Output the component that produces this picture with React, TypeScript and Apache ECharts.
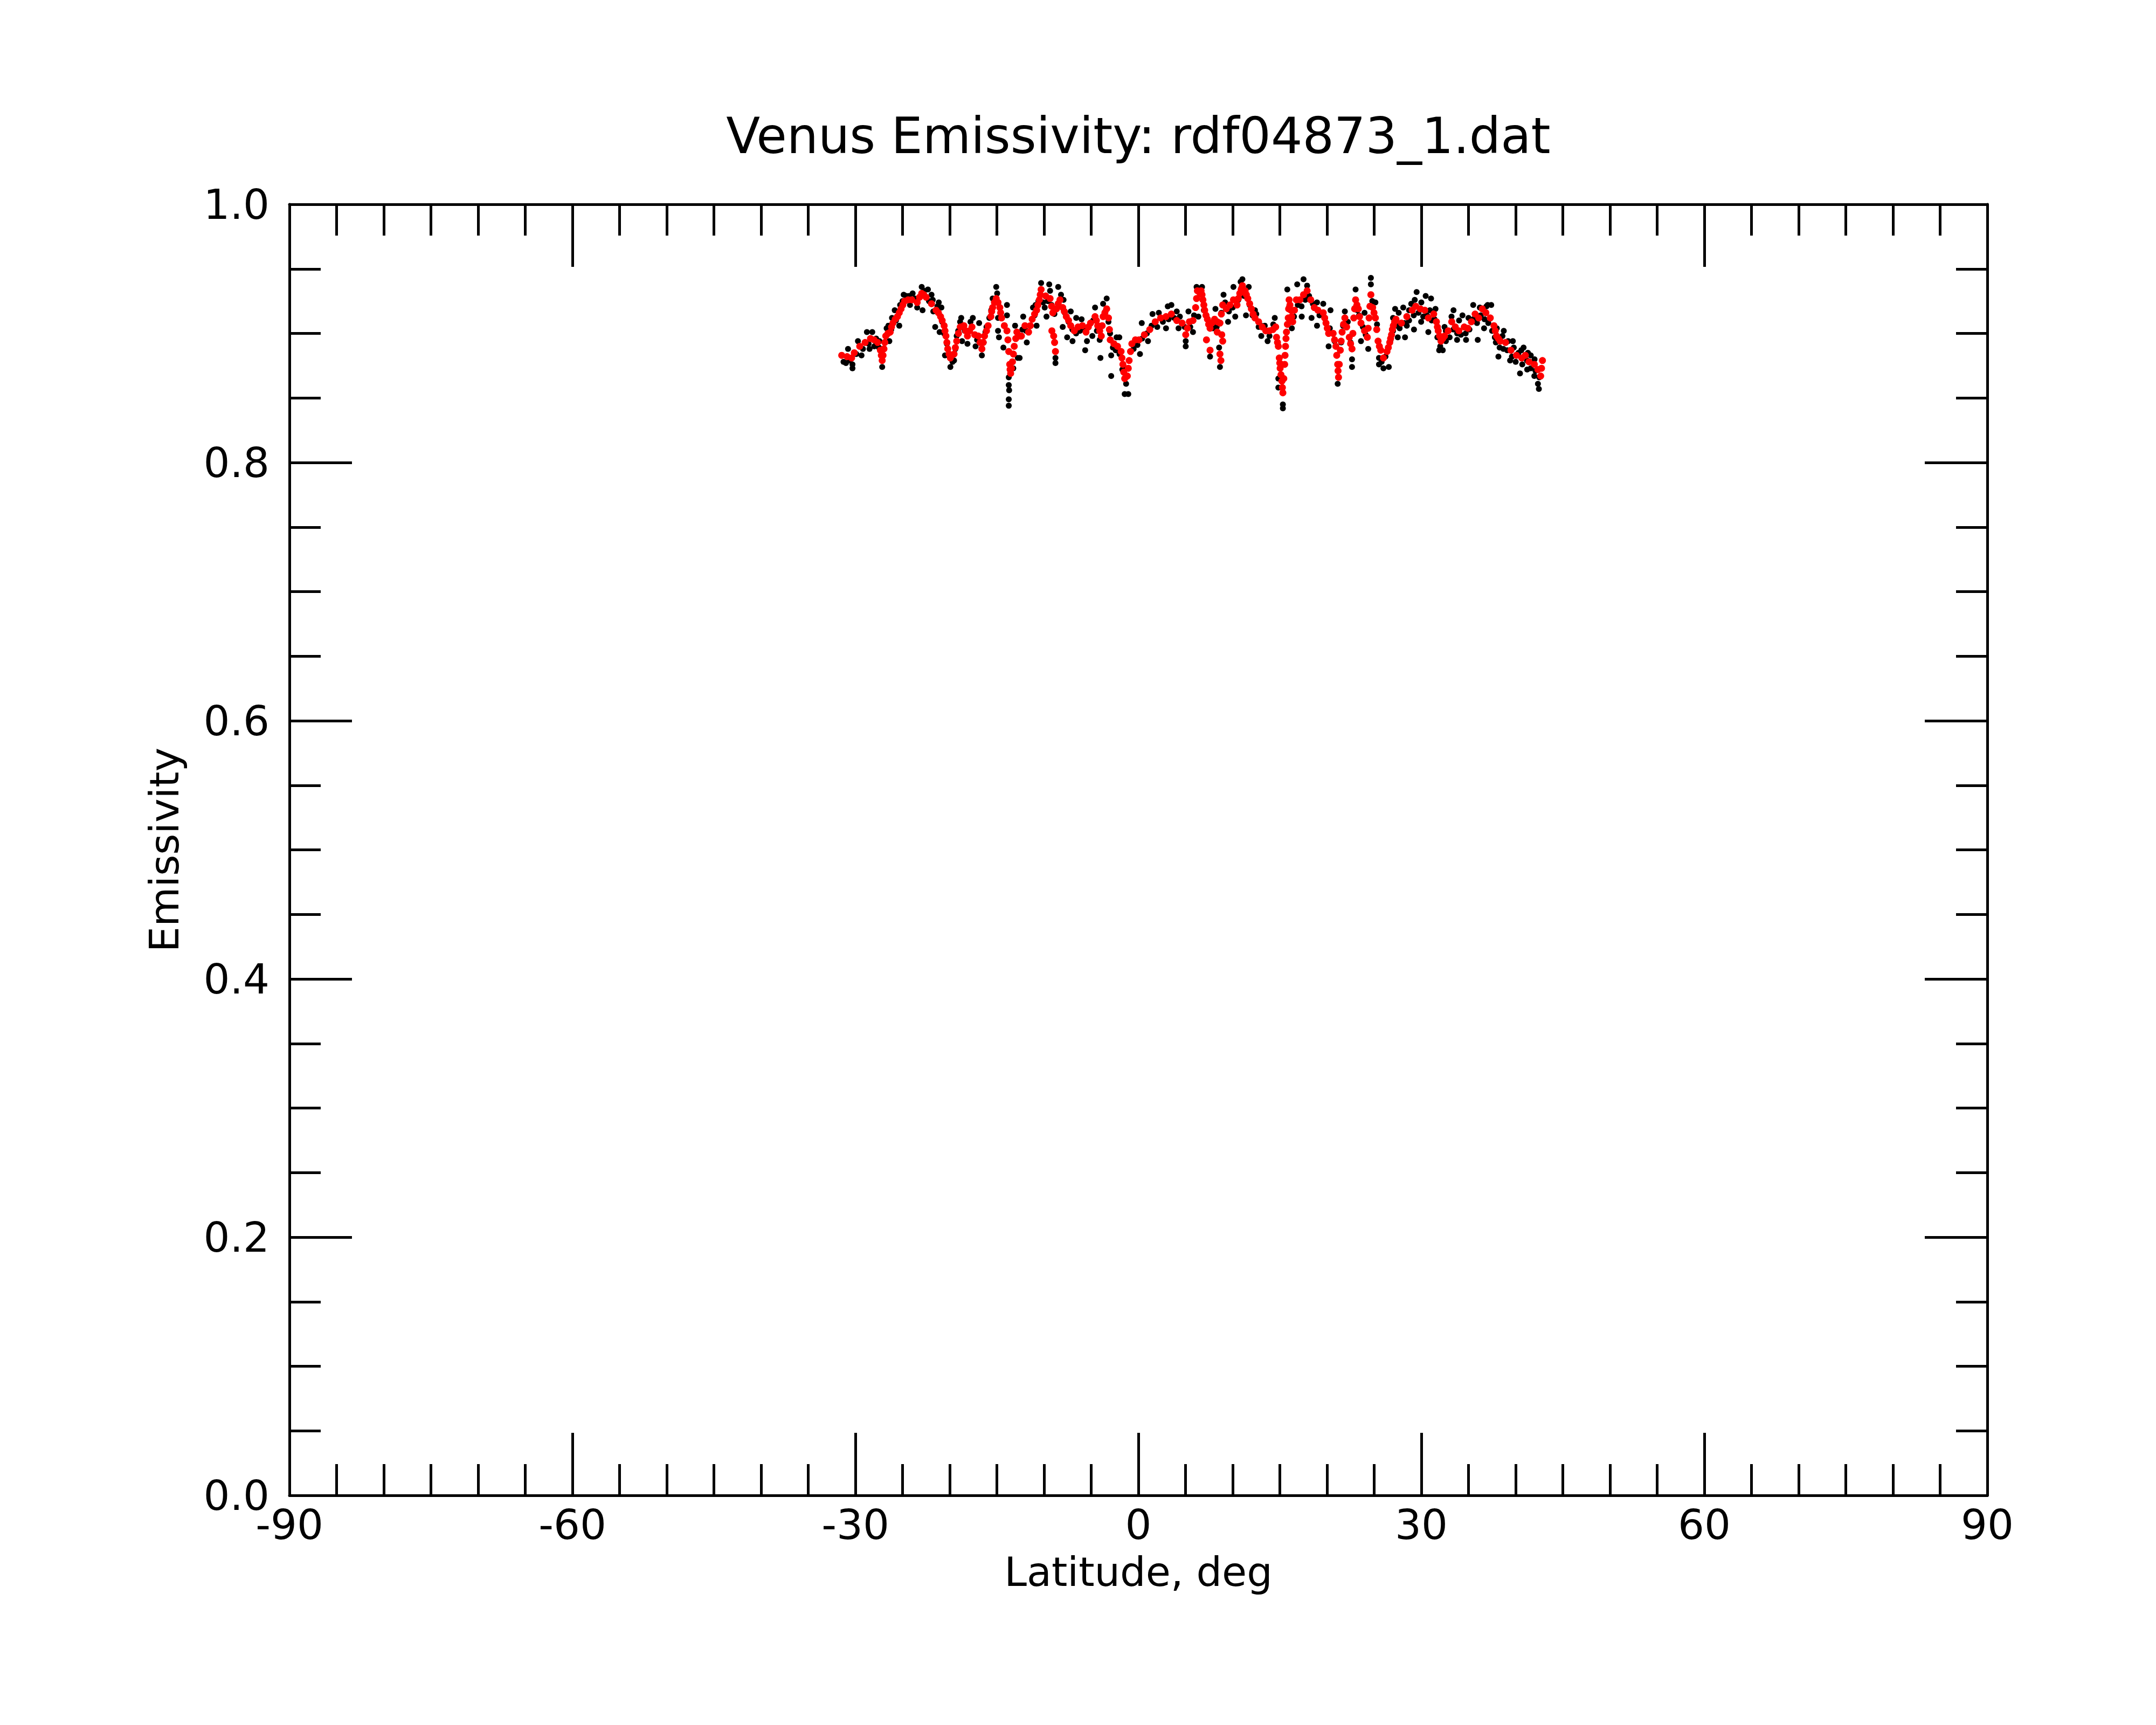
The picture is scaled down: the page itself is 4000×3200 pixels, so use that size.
import React, { useEffect, useRef } from "react";
import * as echarts from "echarts";

const TITLE = "Venus Emissivity: rdf04873_1.dat";
const X_NAME = "Latitude, deg";
const Y_NAME = "Emissivity";

// Red (smoothed) points: [latitude, emissivity]
const redPoints: number[][] = [
  [-31.45, 0.883], [-30.88, 0.882], [-30.4, 0.881], [-30.12, 0.885], [-29.54, 0.89], [-28.97, 0.893],
  [-28.4, 0.896], [-28.02, 0.895], [-27.64, 0.893], [-27.35, 0.887], [-27.16, 0.879], [-26.97, 0.888],
  [-26.78, 0.898], [-26.31, 0.901], [-26.02, 0.908], [-25.54, 0.913], [-25.16, 0.919], [-24.78, 0.925],
  [-24.4, 0.926], [-24.02, 0.926], [-23.45, 0.924], [-22.97, 0.931], [-22.5, 0.928], [-21.93, 0.923],
  [-21.45, 0.918], [-20.97, 0.913], [-20.59, 0.906], [-20.4, 0.898], [-20.21, 0.888], [-19.93, 0.881],
  [-19.54, 0.884], [-19.26, 0.894], [-18.88, 0.905], [-18.5, 0.906], [-18.12, 0.898], [-17.64, 0.905],
  [-17.35, 0.899], [-16.97, 0.898], [-16.59, 0.888], [-16.31, 0.898], [-15.93, 0.906], [-15.64, 0.913],
  [-15.45, 0.92], [-15.07, 0.927], [-14.69, 0.92], [-14.5, 0.912], [-14.21, 0.906], [-13.93, 0.902],
  [-13.83, 0.895], [-13.64, 0.876], [-13.54, 0.869], [-13.35, 0.878], [-13.16, 0.89], [-12.88, 0.901],
  [-12.5, 0.898], [-12.4, 0.898], [-12.02, 0.906], [-11.64, 0.901], [-11.26, 0.911], [-10.79, 0.918],
  [-10.5, 0.926], [-10.31, 0.934], [-9.83, 0.929], [-9.36, 0.927], [-9.07, 0.916], [-8.69, 0.919],
  [-8.31, 0.926], [-8.02, 0.92], [-7.64, 0.913], [-7.17, 0.906], [-6.79, 0.902], [-6.4, 0.905],
  [-5.93, 0.906], [-5.55, 0.901], [-5.07, 0.908], [-4.59, 0.913], [-4.31, 0.906], [-3.93, 0.898],
  [-3.74, 0.913], [-3.36, 0.919], [-3.17, 0.912], [-2.98, 0.895], [-2.59, 0.892], [-2.21, 0.89],
  [-1.83, 0.886], [-1.64, 0.876], [-1.45, 0.865], [-1.17, 0.867], [-0.98, 0.879], [-0.69, 0.892],
  [-0.31, 0.895], [0.07, 0.895], [0.64, 0.899], [1.21, 0.903], [1.79, 0.909], [2.36, 0.912],
  [2.93, 0.913], [3.5, 0.915], [4.07, 0.91], [4.64, 0.908], [5.02, 0.899], [5.41, 0.909],
  [5.79, 0.91], [6.07, 0.92], [6.26, 0.933], [6.55, 0.931],
  [-9.17, 0.902], [-8.98, 0.898], [-8.88, 0.893], [-8.79, 0.886],
  [6.65, 0.933], [6.84, 0.926], [7.03, 0.918], [7.32, 0.911], [7.6, 0.904], [7.79, 0.908],
  [8.08, 0.911], [8.36, 0.909], [8.65, 0.908], [8.94, 0.922], [9.32, 0.919], [9.7, 0.922],
  [10.08, 0.926], [10.46, 0.922], [10.75, 0.931], [11.03, 0.937], [11.32, 0.933], [11.6, 0.927],
  [11.98, 0.919], [12.36, 0.912], [12.75, 0.909], [13.13, 0.905], [13.51, 0.902], [13.89, 0.902],
  [14.27, 0.903], [14.56, 0.905], [14.65, 0.897], [14.84, 0.89], [14.94, 0.881], [15.03, 0.873],
  [15.22, 0.863], [15.32, 0.854], [15.51, 0.876], [15.6, 0.89], [15.7, 0.901], [15.89, 0.912],
  [15.98, 0.926], [16.17, 0.918], [16.36, 0.909], [16.75, 0.926], [17.13, 0.926], [17.51, 0.93],
  [17.89, 0.933], [18.27, 0.926], [18.65, 0.92], [19.03, 0.918], [19.6, 0.916], [19.89, 0.908],
  [20.17, 0.9], [20.65, 0.9], [20.94, 0.89], [21.13, 0.876], [21.22, 0.866], [21.41, 0.887],
  [21.6, 0.901], [21.89, 0.912], [22.08, 0.905], [22.36, 0.897], [22.65, 0.888], [22.84, 0.912],
  [23.03, 0.926], [23.32, 0.919], [23.6, 0.908], [23.98, 0.902], [24.27, 0.897], [24.46, 0.912],
  [24.65, 0.93], [24.84, 0.92], [25.13, 0.912], [25.41, 0.894], [25.7, 0.887],
  [7.22, 0.895], [7.6, 0.887], [8.36, 0.901], [8.65, 0.884], [8.75, 0.879], [8.84, 0.899], [8.94, 0.894],
  [25.98, 0.881], [26.36, 0.886], [26.65, 0.893], [26.84, 0.899], [27.03, 0.906], [27.31, 0.911],
  [27.89, 0.908], [28.46, 0.913], [29.03, 0.918], [29.41, 0.921], [29.89, 0.919], [30.36, 0.918],
  [30.74, 0.912], [31.31, 0.915], [31.6, 0.909], [31.79, 0.902], [32.08, 0.894], [32.46, 0.898],
  [32.84, 0.902], [33.22, 0.909], [33.6, 0.905], [33.98, 0.902], [34.55, 0.905], [34.93, 0.904],
  [35.31, 0.909], [35.7, 0.915], [36.08, 0.912], [36.46, 0.919], [36.84, 0.916], [37.31, 0.912],
  [37.7, 0.906], [37.98, 0.898], [38.36, 0.894], [38.93, 0.893], [39.5, 0.887], [40.08, 0.883],
  [40.65, 0.881], [41.03, 0.883], [41.41, 0.878], [41.98, 0.876], [42.36, 0.872], [42.65, 0.867],
  [42.74, 0.873], [42.84, 0.879],
];

// Further red points read along the steep parts of the trace
const redPointsSteep: number[][] = [
  [-27.25, 0.883], [-27.07, 0.883], [-26.88, 0.893], [-26.55, 0.9], [-26.17, 0.905], [-25.78, 0.911],
  [-25.35, 0.916], [-24.97, 0.922], [-23.2, 0.928], [-22.75, 0.93], [-21.2, 0.916], [-20.8, 0.91],
  [-20.5, 0.902], [-20.3, 0.893], [-20.07, 0.884], [-19.4, 0.889], [-19.07, 0.9], [-18.3, 0.902],
  [-17.9, 0.902], [-16.78, 0.893], [-16.45, 0.893], [-16.1, 0.902], [-15.55, 0.917], [-15.26, 0.924],
  [-14.88, 0.924], [-14.6, 0.916], [-13.74, 0.886], [-13.6, 0.872], [-13.45, 0.873], [-13.25, 0.884],
  [-13.0, 0.896], [-11.45, 0.906], [-11.0, 0.915], [-10.65, 0.922], [-10.4, 0.93], [-9.2, 0.921],
  [-8.5, 0.923], [-7.85, 0.917], [-7.4, 0.91], [-5.3, 0.905], [-4.45, 0.91], [-4.1, 0.902],
  [-3.84, 0.906], [-3.55, 0.916], [-3.07, 0.903], [-1.74, 0.881], [-1.55, 0.87], [-1.07, 0.873],
  [-0.83, 0.886], [5.2, 0.904], [6.17, 0.927], [6.75, 0.93], [6.94, 0.922], [7.17, 0.914],
  [7.45, 0.907], [8.8, 0.915], [10.6, 0.927], [10.9, 0.934], [11.45, 0.93], [11.8, 0.923],
  [12.17, 0.915], [14.75, 0.893], [14.99, 0.877], [15.12, 0.868], [15.27, 0.858], [15.42, 0.865],
  [15.55, 0.883], [15.65, 0.896], [15.8, 0.907], [15.93, 0.919], [16.07, 0.922], [16.26, 0.913],
  [16.55, 0.918], [19.75, 0.912], [20.03, 0.904], [20.8, 0.895], [21.03, 0.883], [21.17, 0.871],
  [21.3, 0.876], [21.5, 0.894], [21.75, 0.907], [22.5, 0.892], [22.74, 0.9], [22.93, 0.919],
  [23.17, 0.922], [23.45, 0.913], [24.36, 0.904], [24.55, 0.921], [24.98, 0.916], [25.27, 0.903],
  [25.55, 0.89], [26.5, 0.889], [26.74, 0.896], [26.93, 0.903], [27.17, 0.909], [31.7, 0.905],
  [31.93, 0.898], [32.27, 0.896], [37.84, 0.902], [38.17, 0.896],
];

// Black (raw) points: [latitude, emissivity]
const blackPoints: number[][] = [
  [-31.26, 0.878], [-30.78, 0.888], [-30.31, 0.873], [-30.31, 0.876], [-29.73, 0.894], [-29.35, 0.883],
  [-28.78, 0.901], [-28.21, 0.901], [-28.5, 0.888], [-27.45, 0.894], [-27.16, 0.874], [-26.69, 0.904],
  [-26.4, 0.894], [-26.12, 0.912], [-25.83, 0.918], [-25.35, 0.906], [-25.26, 0.922], [-24.88, 0.93],
  [-24.21, 0.922], [-23.93, 0.931], [-23.45, 0.92], [-22.97, 0.936], [-22.88, 0.918], [-22.31, 0.934],
  [-21.93, 0.93], [-21.74, 0.917], [-21.54, 0.905], [-21.16, 0.924], [-21.07, 0.901], [-20.88, 0.92],
  [-20.5, 0.883], [-19.93, 0.874], [-19.54, 0.879], [-19.26, 0.898], [-18.78, 0.912], [-18.69, 0.894],
  [-18.12, 0.892], [-17.55, 0.912], [-17.26, 0.89], [-16.88, 0.908], [-16.59, 0.883], [-16.21, 0.901],
  [-15.45, 0.927], [-15.07, 0.936], [-14.97, 0.931], [-14.88, 0.912], [-14.88, 0.902], [-14.78, 0.897],
  [-14.31, 0.889], [-13.93, 0.922], [-13.93, 0.914], [-13.74, 0.866], [-13.74, 0.86], [-13.7, 0.856],
  [-13.74, 0.849], [-13.74, 0.844], [-13.26, 0.873], [-13.07, 0.906], [-12.78, 0.881],
  [-12.59, 0.881], [-12.21, 0.913], [-11.83, 0.893], [-11.17, 0.92], [-10.79, 0.906], [-10.6, 0.925],
  [-10.31, 0.939], [-9.93, 0.92], [-9.74, 0.913], [-9.45, 0.938], [-9.36, 0.933], [-8.79, 0.877],
  [-8.79, 0.881], [-8.5, 0.936], [-8.02, 0.905], [-7.93, 0.926], [-7.55, 0.897], [-7.17, 0.917],
  [-6.98, 0.894], [-6.59, 0.912], [-6.02, 0.911], [-5.64, 0.887], [-5.45, 0.894], [-4.88, 0.898],
  [-4.59, 0.92], [-4.02, 0.881], [-3.74, 0.923], [-3.36, 0.927], [-3.17, 0.909], [-2.88, 0.883],
  [-2.88, 0.867], [-2.31, 0.897], [-2.02, 0.897], [-1.45, 0.853], [-1.07, 0.853], [-1.26, 0.873],
  [-0.5, 0.888], [0.17, 0.884], [0.36, 0.908], [1.02, 0.894], [1.5, 0.915], [2.17, 0.916],
  [2.93, 0.904], [3.12, 0.921], [3.5, 0.922], [4.07, 0.917], [4.26, 0.904], [5.02, 0.894],
  [5.02, 0.89], [5.31, 0.917], [5.79, 0.901], [6.17, 0.936], [6.36, 0.913],
  [6.75, 0.936], [6.94, 0.918], [7.6, 0.882], [8.17, 0.919], [8.56, 0.889], [8.65, 0.874],
  [9.03, 0.93], [9.51, 0.909], [10.08, 0.936], [10.27, 0.913], [10.84, 0.94], [11.03, 0.942],
  [11.41, 0.914], [11.7, 0.936], [12.36, 0.918], [12.75, 0.905], [13.03, 0.898], [13.7, 0.894],
  [14.46, 0.912], [14.84, 0.865], [14.84, 0.858], [15.32, 0.845], [15.32, 0.842], [15.79, 0.934],
  [16.27, 0.904], [16.84, 0.938], [17.51, 0.942], [17.32, 0.913], [17.89, 0.937], [18.36, 0.912],
  [18.94, 0.924], [18.94, 0.906], [19.6, 0.923], [20.17, 0.89], [20.37, 0.918], [21.13, 0.861],
  [21.89, 0.917], [22.65, 0.874], [22.65, 0.88], [23.03, 0.934], [23.22, 0.918], [23.6, 0.894],
  [23.98, 0.916], [24.37, 0.888], [24.65, 0.943], [24.65, 0.938], [25.13, 0.924], [25.51, 0.876],
  [25.51, 0.881],
  [25.79, 0.878], [25.98, 0.873], [26.55, 0.874], [26.74, 0.895], [27.22, 0.919], [27.5, 0.897],
  [28.08, 0.92], [28.27, 0.897], [28.46, 0.906], [29.22, 0.903], [28.93, 0.923], [29.5, 0.932],
  [29.98, 0.909], [30.46, 0.929], [31.03, 0.927], [30.74, 0.901], [31.5, 0.919], [31.89, 0.887],
  [32.27, 0.887], [32.46, 0.905], [33.41, 0.918], [33.79, 0.895], [34.36, 0.914], [34.74, 0.895],
  [35.5, 0.922], [35.98, 0.895], [36.65, 0.904], [37.03, 0.922], [37.41, 0.922], [37.79, 0.897],
  [38.17, 0.882], [38.74, 0.902], [39.41, 0.879], [39.7, 0.894], [40.46, 0.869], [40.84, 0.889],
  [41.22, 0.872], [41.6, 0.883], [41.98, 0.867], [42.36, 0.861], [42.46, 0.857],
];

// Black points read along the edges of the band around the red trace
const blackBandPoints: number[][] = [
  [-31.0, 0.877], [-30.6, 0.879], [-29.9, 0.884], [-29.2, 0.888], [-28.6, 0.892], [-28.0, 0.89],
  [-27.8, 0.896], [-27.5, 0.889], [-26.5, 0.906], [-26.2, 0.903], [-25.7, 0.91], [-25.0, 0.925],
  [-24.6, 0.929], [-24.3, 0.929], [-23.7, 0.927], [-23.2, 0.928], [-22.7, 0.933], [-22.2, 0.925],
  [-21.8, 0.926], [-21.3, 0.921], [-20.8, 0.909], [-20.6, 0.9], [-20.3, 0.892], [-20.1, 0.884],
  [-19.7, 0.878], [-19.4, 0.888], [-19.1, 0.902], [-18.9, 0.909], [-18.4, 0.902], [-17.9, 0.902],
  [-17.8, 0.909], [-17.1, 0.895], [-16.8, 0.893], [-16.4, 0.893], [-16.1, 0.905], [-15.8, 0.912],
  [-15.6, 0.918], [-15.3, 0.925], [-12.3, 0.903], [-11.9, 0.902], [-11.5, 0.906], [-11.0, 0.914],
  [-10.9, 0.922], [-10.4, 0.93], [-10.1, 0.924], [-9.6, 0.925], [-9.2, 0.922], [-8.9, 0.915],
  [-8.4, 0.921], [-8.2, 0.93], [-7.8, 0.916], [-7.4, 0.909], [-7.0, 0.903], [-6.6, 0.9],
  [-6.2, 0.902], [-5.8, 0.903], [-5.3, 0.905], [-4.8, 0.91], [-4.4, 0.902], [-4.1, 0.895],
  [-3.5, 0.917], [-3.0, 0.9], [-2.7, 0.889], [-2.4, 0.887], [-2.0, 0.884], [-1.7, 0.872],
  [-1.3, 0.861], [-0.1, 0.891], [0.4, 0.896], [0.9, 0.9], [1.4, 0.906], [2.0, 0.905],
  [2.6, 0.909], [3.2, 0.911], [3.8, 0.912], [4.4, 0.913], [4.9, 0.905], [5.5, 0.905],
  [5.9, 0.914], [7.2, 0.914], [7.5, 0.907], [7.9, 0.904], [8.3, 0.905], [8.8, 0.916],
  [9.2, 0.924], [9.6, 0.917], [10.0, 0.92], [10.6, 0.926], [10.9, 0.935], [11.2, 0.929],
  [11.8, 0.922], [12.1, 0.914], [12.5, 0.915], [13.0, 0.906], [13.4, 0.906], [13.9, 0.898],
  [14.3, 0.907], [16.0, 0.921], [16.5, 0.913], [16.9, 0.922], [17.3, 0.921], [17.7, 0.926],
  [18.1, 0.929], [18.5, 0.923], [19.2, 0.914], [19.8, 0.912], [20.3, 0.904], [20.8, 0.894],
  [21.5, 0.893], [21.7, 0.906], [22.2, 0.909], [22.5, 0.893], [23.0, 0.92], [23.4, 0.914],
  [23.8, 0.905], [24.1, 0.899], [24.8, 0.925], [25.3, 0.907], [26.2, 0.882], [26.5, 0.889],
  [27.0, 0.902], [27.4, 0.906], [27.7, 0.904], [28.2, 0.908], [28.7, 0.91], [29.2, 0.914],
  [29.7, 0.916], [30.2, 0.913], [30.6, 0.914], [31.1, 0.91], [31.4, 0.911], [31.7, 0.897],
  [32.0, 0.89], [32.6, 0.894], [33.0, 0.897], [33.4, 0.903], [33.8, 0.9], [34.2, 0.899],
  [34.7, 0.9], [35.1, 0.903], [35.5, 0.911], [35.9, 0.908], [36.3, 0.914], [36.7, 0.911],
  [37.1, 0.908], [37.5, 0.902], [37.9, 0.893], [38.3, 0.889], [38.7, 0.888], [39.1, 0.887],
  [39.6, 0.882], [40.0, 0.878], [40.3, 0.885], [40.7, 0.876], [41.2, 0.879], [41.6, 0.873],
  [42.1, 0.871], [42.5, 0.866], [27.0, 0.912], [27.6, 0.916], [28.7, 0.918], [29.3, 0.926],
  [30.0, 0.924], [30.9, 0.918], [32.6, 0.902], [33.2, 0.913], [34.0, 0.91], [35.0, 0.912],
  [36.2, 0.92], [36.9, 0.921], [38.0, 0.904], [38.6, 0.898], [39.2, 0.894], [39.8, 0.889],
  [40.6, 0.887], [41.3, 0.885], [42.0, 0.88],
];

const X_MIN = -90;
const X_MAX = 90;
const X_STEP = 30;
const Y_MIN = 0;
const Y_MAX = 1;
const Y_STEP = 0.2;

const FONT = "DejaVu Sans";

export default function App() {
  const ref = useRef<HTMLDivElement>(null);
  useEffect(() => {
    document.body.style.margin = "0";
    if (!ref.current) return;
    const chart = echarts.init(ref.current, null, { renderer: "svg" });
    const line = { color: "#000", width: 5 };
    const labelStyle = { fontSize: 77, color: "#000", fontFamily: FONT };
    const nameStyle = { fontSize: 75, color: "#000", fontFamily: FONT };
    const baseX = (pos: "bottom" | "top", show: boolean) => ({
      type: "value",
      position: pos,
      min: X_MIN,
      max: X_MAX,
      interval: X_STEP,
      axisLine: { show: true, onZero: false, lineStyle: line },
      axisTick: { show: true, inside: true, length: 116, lineStyle: line },
      minorTick: { show: true, splitNumber: 6, length: 58, lineStyle: line },
      splitLine: { show: false },
      minorSplitLine: { show: false },
      axisLabel: { show, margin: 16, ...labelStyle },
      name: show ? X_NAME : "",
      nameLocation: "middle",
      nameGap: 104,
      nameTextStyle: nameStyle,
    });
    const baseY = (pos: "left" | "right", show: boolean) => ({
      type: "value",
      position: pos,
      min: Y_MIN,
      max: Y_MAX,
      interval: Y_STEP,
      axisLine: { show: true, onZero: false, lineStyle: line },
      axisTick: { show: true, inside: true, length: 116, lineStyle: line },
      minorTick: { show: true, splitNumber: 4, length: 58, lineStyle: line },
      splitLine: { show: false },
      minorSplitLine: { show: false },
      axisLabel: {
        show,
        margin: 37,
        ...labelStyle,
        formatter: (v: number) => v.toFixed(1),
      },
      name: show ? Y_NAME : "",
      nameLocation: "middle",
      nameGap: 195,
      nameTextStyle: nameStyle,
    });
    const scatter = (data: number[][], color: string, size: number) => ({
      type: "scatter",
      xAxisIndex: 0,
      yAxisIndex: 0,
      data,
      symbol: "circle",
      symbolSize: size,
      itemStyle: { color, opacity: 1 },
      emphasis: { disabled: true },
      silent: true,
    });
    chart.setOption({
      animation: false,
      backgroundColor: "#fff",
      grid: { left: 537, right: 313, top: 379, bottom: 426, containLabel: false },
      xAxis: [baseX("bottom", true), baseX("top", false)],
      yAxis: [baseY("left", true), baseY("right", false)],
      graphic: [
        {
          type: "text",
          x: 2112,
          y: 206,
          style: {
            text: TITLE,
            fontSize: 92,
            fontFamily: FONT,
            fill: "#000",
            textAlign: "center",
            textVerticalAlign: "top",
          },
        },
      ],
      series: [
        scatter(blackPoints, "#000000", 11),
        scatter(blackBandPoints, "#000000", 11),
        scatter(redPoints, "#ff0000", 13),
        scatter(redPointsSteep, "#ff0000", 13),
      ],
    });
    return () => chart.dispose();
  }, []);
  return (
    <div
      ref={ref}
      style={{ position: "absolute", left: 0, top: 0, width: 4000, height: 3200 }}
    />
  );
}
